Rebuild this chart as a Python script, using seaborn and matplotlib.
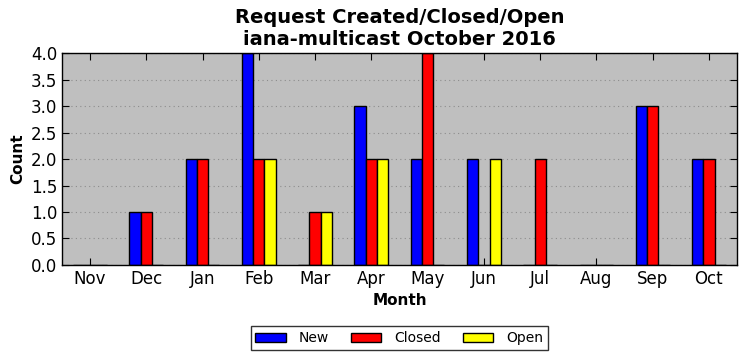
import matplotlib
matplotlib.use("Agg")
import matplotlib.pyplot as plt
import pandas as pd
import seaborn as sns

months = ["Nov", "Dec", "Jan", "Feb", "Mar", "Apr", "May", "Jun", "Jul", "Aug", "Sep", "Oct"]
new = [0, 1, 2, 4, 0, 3, 2, 2, 0, 0, 3, 2]
closed = [0, 1, 2, 2, 1, 2, 4, 0, 2, 0, 3, 2]
open_ = [0, 0, 0, 2, 1, 2, 0, 2, 0, 0, 0, 0]
series = ["New", "Closed", "Open"]
colors = ["#0000ff", "#ff0000", "#ffff00"]

df = pd.DataFrame({"Month": months, "New": new, "Closed": closed, "Open": open_})
long = df.melt(id_vars="Month", var_name="Type", value_name="Count")

sns.set_style("ticks")
plt.rcParams["font.family"] = ["DejaVu Sans"]
plt.rcParams["text.color"] = "black"
plt.rcParams["axes.labelcolor"] = "black"
plt.rcParams["xtick.color"] = "black"
plt.rcParams["ytick.color"] = "black"

fig, ax = plt.subplots(figsize=(7.46, 3.61), dpi=100)
fig.subplots_adjust(left=0.083, right=0.988, top=0.853, bottom=0.266)
sns.barplot(data=long, x="Month", y="Count", hue="Type", hue_order=series,
            order=months, palette=colors, width=0.6, saturation=1,
            edgecolor="black", linewidth=1, ax=ax, legend=False)

ax.set_facecolor("#bfbfbf")
ax.set_xlim(-0.5, len(months) - 0.5)
ax.set_ylim(0, 4)
ax.set_yticks([i * 0.5 for i in range(9)])
ax.yaxis.grid(True, linestyle=(0, (1, 3)), color="#8c8c8c", linewidth=0.8)
ax.set_axisbelow(True)
for s in ax.spines.values():
    s.set_visible(True)
    s.set_color("black")
    s.set_linewidth(1)
ax.tick_params(direction="in", top=True, right=True, length=5, labelsize=12)
ax.set_xlabel("Month", fontsize=11, fontweight="bold")
ax.set_ylabel("Count", fontsize=11, fontweight="bold")
ax.set_title("Request Created/Closed/Open\niana-multicast October 2016",
             fontsize=14, fontweight="bold", color="black")

handles = [plt.Rectangle((0, 0), 1, 1, facecolor=c, edgecolor="black") for c in colors]
leg = fig.legend(handles, series, loc="center", bbox_to_anchor=(0.535, 0.063),
                 ncol=3, fontsize=10, frameon=True, fancybox=False,
                 columnspacing=1.6, handlelength=2.2, handletextpad=0.9,
                 borderpad=0.35)
leg.get_frame().set_edgecolor("black")

fig.savefig("out.png", dpi=100)
